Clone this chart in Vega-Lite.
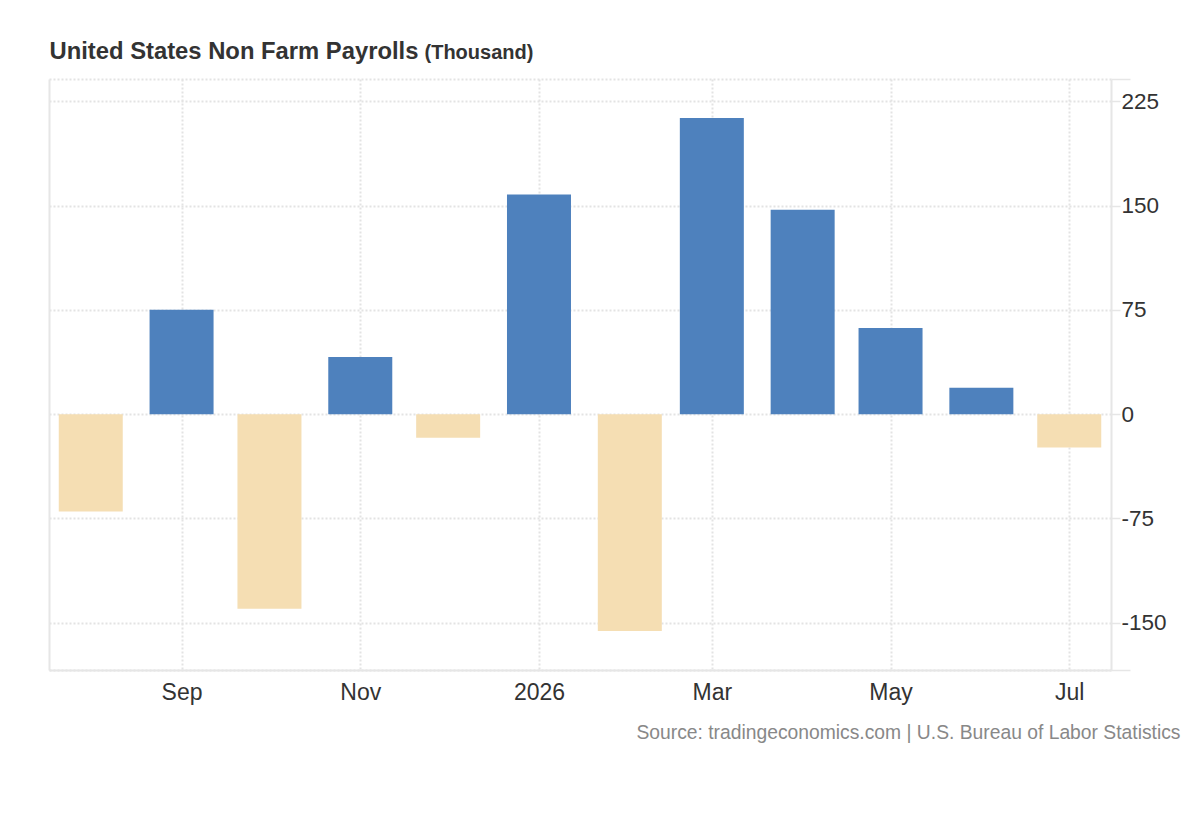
{
  "$schema": "https://vega.github.io/schema/vega-lite/v6.json",
  "description": "United States Non Farm Payrolls, monthly change",
  "autosize": "none",
  "width": 1062,
  "height": 591,
  "padding": {"left": 49, "top": 79, "right": 89, "bottom": 150},
  "background": "white",
  "config": {
    "font": "Liberation Sans",
    "view": {"stroke": null}
  },
  "data": {
    "values": [
      {"month": "2025-08-01", "value": -70},
      {"month": "2025-09-01", "value": 75},
      {"month": "2025-10-01", "value": -140},
      {"month": "2025-11-01", "value": 41},
      {"month": "2025-12-01", "value": -17},
      {"month": "2026-01-01", "value": 158},
      {"month": "2026-02-01", "value": -156},
      {"month": "2026-03-01", "value": 213},
      {"month": "2026-04-01", "value": 147},
      {"month": "2026-05-01", "value": 62},
      {"month": "2026-06-01", "value": 19},
      {"month": "2026-07-01", "value": -24}
    ]
  },
  "resolve": {"axis": {"y": "independent"}},
  "layer": [
    {
      "mark": {"type": "bar", "width": 64},
      "encoding": {
        "x": {
          "field": "month",
          "type": "temporal",
          "scale": {
            "type": "utc",
            "padding": 0,
            "domain": [
              {"year": 2025, "month": 7, "date": 17, "hours": 18, "utc": true},
              {"year": 2026, "month": 7, "date": 15, "hours": 6, "utc": true}
            ]
          },
          "axis": {
            "orient": "bottom",
            "title": "Source: tradingeconomics.com | U.S. Bureau of Labor Statistics",
            "titleX": 1131,
            "titleY": 68,
            "titleAlign": "right",
            "titleAnchor": "end",
            "titleBaseline": "alphabetic",
            "titleFontSize": 19.3,
            "titleFontWeight": "normal",
            "titleColor": "#888888",
            "values": [
              {"year": 2025, "month": 9, "date": 1, "utc": true},
              {"year": 2025, "month": 11, "date": 1, "utc": true},
              {"year": 2026, "month": 1, "date": 1, "utc": true},
              {"year": 2026, "month": 3, "date": 1, "utc": true},
              {"year": 2026, "month": 5, "date": 1, "utc": true},
              {"year": 2026, "month": 7, "date": 1, "utc": true}
            ],
            "labelExpr": "utcFormat(datum.value, '%m') == '01' ? utcFormat(datum.value, '%Y') : utcFormat(datum.value, '%b')",
            "labelFontSize": 23,
            "labelColor": "#333333",
            "labelPadding": 11,
            "labelBaseline": "top",
            "ticks": false,
            "domain": true,
            "domainColor": "#e6e6e6",
            "domainWidth": 2,
            "grid": true,
            "gridColor": "#e3e3e3",
            "gridWidth": 2,
            "gridDash": [2, 2]
          }
        },
        "y": {
          "field": "value",
          "type": "quantitative",
          "scale": {"domain": [-184, 241], "nice": false, "zero": false},
          "axis": {
            "orient": "right",
            "title": "(Thousand)",
            "titleAngle": 0,
            "titleX": -687,
            "titleY": -20.7,
            "titleAlign": "left",
            "titleBaseline": "alphabetic",
            "titleFontSize": 20,
            "titleFontWeight": "bold",
            "titleColor": "#333333",
            "values": [-184, -150, -75, 0, 75, 150, 225, 241],
            "labelExpr": "datum.value < -180 || datum.value > 235 ? '' : replace(datum.label, '\u2212', '-')",
            "labelFontSize": 22.5,
            "labelColor": "#333333",
            "labelAlign": "left",
            "labelBaseline": "middle",
            "labelPadding": 1,
            "tickSize": {"condition": {"test": "datum.value < -180 || datum.value > 235", "value": 19}, "value": 9},
            "tickColor": "#e6e6e6",
            "tickWidth": 1.5,
            "domain": true,
            "domainColor": "#e6e6e6",
            "domainWidth": 2,
            "grid": true,
            "gridColor": "#e3e3e3",
            "gridWidth": 2,
            "gridDash": [2, 2]
          }
        },
        "color": {
          "condition": {"test": "datum.value < 0", "value": "#f5deb3"},
          "value": "#4e81bd"
        }
      }
    },
    {
      "mark": {"type": "rule", "strokeOpacity": 0},
      "encoding": {
        "y": {
          "datum": 0,
          "type": "quantitative",
          "scale": {"domain": [-184, 241], "nice": false, "zero": false},
          "axis": {
            "orient": "left",
            "title": "United States Non Farm Payrolls",
            "titleAngle": 0,
            "titleX": 0,
            "titleY": -20.7,
            "titleAlign": "left",
            "titleBaseline": "alphabetic",
            "titleFontSize": 23.8,
            "titleFontWeight": "bold",
            "titleColor": "#333333",
            "labels": false,
            "ticks": false,
            "grid": false,
            "domain": true,
            "domainColor": "#e6e6e6",
            "domainWidth": 2
          }
        }
      }
    }
  ]
}
